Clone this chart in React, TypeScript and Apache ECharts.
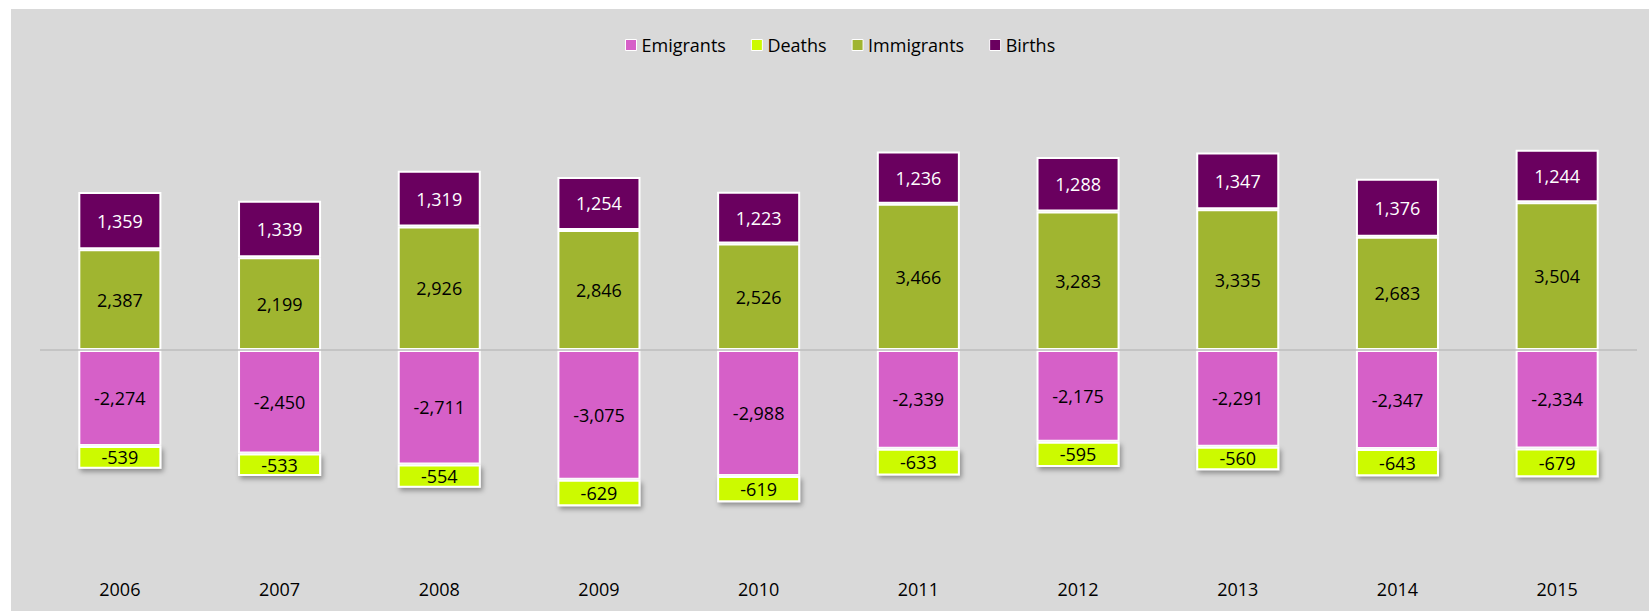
import React, { useEffect, useRef } from "react";
import * as echarts from "echarts";

const years = ["2006", "2007", "2008", "2009", "2010", "2011", "2012", "2013", "2014", "2015"];
const emigrants = [-2274, -2450, -2711, -3075, -2988, -2339, -2175, -2291, -2347, -2334];
const deaths = [-539, -533, -554, -629, -619, -633, -595, -560, -643, -679];
const immigrants = [2387, 2199, 2926, 2846, 2526, 3466, 3283, 3335, 2683, 3504];
const births = [1359, 1339, 1319, 1254, 1223, 1236, 1288, 1347, 1376, 1244];

const FONT = "'Open Sans', sans-serif";

export default function App() {
  const ref = useRef<HTMLDivElement>(null);
  useEffect(() => {
    document.body.style.margin = "0";
    const chart = echarts.init(ref.current!, null, { renderer: "svg" });
    const fmt = (p: any) => Number(p.value).toLocaleString("en-US");
    const mk = (name: string, data: number[], color: string, labelColor: string, shadow: boolean, extra: any = {}) => ({
      name,
      type: "bar",
      stack: "total",
      data,
      barWidth: "52%",
      itemStyle: {
        color,
        borderColor: "#ffffff",
        borderWidth: 2,
        ...(shadow
          ? { shadowBlur: 5, shadowOffsetX: 2, shadowOffsetY: 3, shadowColor: "rgba(0,0,0,0.35)" }
          : {}),
      },
      label: {
        show: true,
        position: "inside",
        formatter: fmt,
        color: labelColor,
        fontFamily: FONT,
        fontSize: 18,
      },
      ...extra,
    });
    chart.setOption({
      animation: false,
      textStyle: { fontFamily: FONT },
      legend: {
        data: ["Emigrants", "Deaths", "Immigrants", "Births"],
        left: 609,
        top: 22,
        icon: "rect",
        itemWidth: 11,
        itemHeight: 11,
        itemGap: 25,
        textStyle: { fontFamily: FONT, fontSize: 18, color: "#000" },
        itemStyle: { borderColor: "#ffffff", borderWidth: 1 },
      },
      grid: { left: 29, right: 12, top: 130, bottom: 50 },
      xAxis: {
        type: "category",
        data: years,
        axisLine: { show: false, onZero: false },
        axisTick: { show: false },
        axisLabel: { fontFamily: FONT, fontSize: 18, color: "#000", margin: 19 },
      },
      yAxis: {
        type: "value",
        min: -5000,
        max: 5000,
        show: false,
        splitLine: { show: false },
      },
      series: [
        mk("Emigrants", emigrants, "#D660C8", "#000", false, {
          markLine: {
            silent: true,
            symbol: "none",
            label: { show: false },
            lineStyle: { color: "#bdbdbd", width: 1.5, type: "solid" },
            data: [{ yAxis: 0 }],
          },
        }),
        mk("Deaths", deaths, "#CCFA00", "#000", true),
        mk("Immigrants", immigrants, "#A0B530", "#000", false),
        mk("Births", births, "#6A005F", "#fff", false),
      ],
    });
    return () => chart.dispose();
  }, []);
  return (
    <div style={{ position: "relative", width: 1649, height: 611, background: "#fff" }}>
      <div
        ref={ref}
        style={{ position: "absolute", left: 11, top: 9, width: 1638, height: 602, background: "#d9d9d9" }}
      />
    </div>
  );
}
